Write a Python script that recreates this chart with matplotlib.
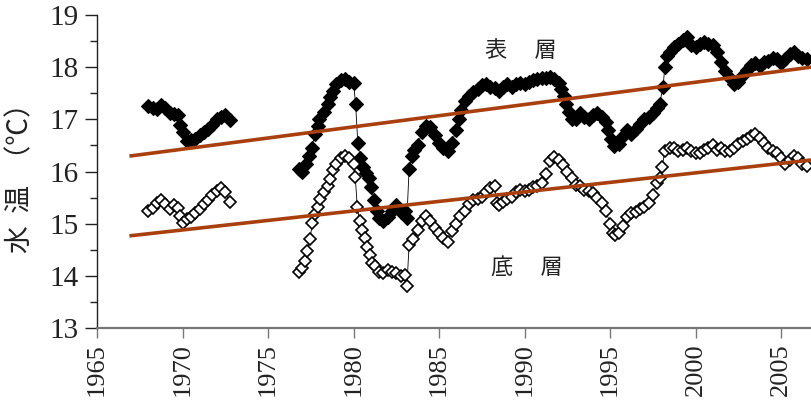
import numpy as np
import matplotlib
matplotlib.use("Agg")
import matplotlib.pyplot as plt
from matplotlib.ticker import MultipleLocator

nan = np.nan

# 表層水温（年移動平均）— nan で欠測期間を区切る
surface_years = [
    1968.00, 1968.25, 1968.50, 1968.75, 1969.00, 1969.25, 1969.50, 1969.75, 1969.88,
    1970.00, 1970.25, 1970.50, 1970.75, 1971.00, 1971.25, 1971.50, 1971.75, 1972.00,
    1972.25, 1972.50, 1972.75,
    nan,
    1976.80, 1977.00, 1977.25, 1977.40, 1977.55, 1977.75, 1977.90, 1978.00, 1978.25,
    1978.50, 1978.65, 1978.80, 1979.00, 1979.25, 1979.50, 1979.75, 1980.00, 1980.12,
    1980.25, 1980.40, 1980.55, 1980.75, 1980.90, 1981.05, 1981.20, 1981.35, 1981.50,
    1981.75, 1982.00, 1982.25, 1982.50, 1982.75, 1983.00, 1983.12, 1983.25, 1983.40,
    1983.55, 1983.75, 1984.00, 1984.25, 1984.50, 1984.75, 1985.00, 1985.25, 1985.50,
    1985.75, 1986.00, 1986.15, 1986.30, 1986.50, 1986.75, 1987.00, 1987.25, 1987.50,
    1987.75, 1988.00, 1988.25, 1988.50, 1988.75, 1989.00, 1989.25, 1989.50, 1989.75,
    1990.00, 1990.25, 1990.50, 1990.75, 1991.00, 1991.25, 1991.50, 1991.75, 1992.00,
    1992.15, 1992.30, 1992.45, 1992.60, 1992.75, 1993.00, 1993.25, 1993.50, 1993.75,
    1994.00, 1994.25, 1994.50, 1994.75, 1994.90, 1995.05, 1995.25, 1995.50, 1995.75,
    1996.00, 1996.25, 1996.50, 1996.75, 1997.00, 1997.25, 1997.50, 1997.75, 1997.90,
    1998.10, 1998.20, 1998.35, 1998.50, 1998.75, 1999.00, 1999.25, 1999.50, 1999.75,
    2000.00, 2000.25, 2000.50, 2000.75, 2001.00, 2001.25, 2001.50, 2001.75, 2002.00,
    2002.25, 2002.50, 2002.75, 2003.00, 2003.25, 2003.50, 2003.75, 2004.00, 2004.25,
    2004.50, 2004.75, 2005.00, 2005.25, 2005.50, 2005.75, 2006.00, 2006.25, 2006.50,
]
surface_temp = [
    17.25, 17.22, 17.20, 17.28, 17.22, 17.12, 17.10, 17.08, 16.90,
    16.75, 16.58, 16.60, 16.62, 16.70, 16.75, 16.82, 16.90, 17.00,
    17.05, 17.08, 16.98,
    nan,
    16.05, 16.00, 16.15, 16.30, 16.45, 16.72, 16.88, 17.00, 17.15,
    17.30, 17.42, 17.55, 17.68, 17.75, 17.78, 17.72, 17.70, 17.30,
    16.55, 16.25, 16.08, 15.98, 15.88, 15.70, 15.45, 15.25, 15.10,
    15.05, 15.12, 15.25, 15.35, 15.22, 15.25, 15.10, 16.05, 16.30,
    16.42, 16.50, 16.75, 16.88, 16.85, 16.70, 16.55, 16.45, 16.40,
    16.55, 16.80, 17.00, 17.18, 17.35, 17.45, 17.52, 17.58, 17.65,
    17.68, 17.62, 17.60, 17.55, 17.62, 17.68, 17.62, 17.68, 17.70,
    17.68, 17.72, 17.75, 17.78, 17.80, 17.80, 17.82, 17.78, 17.70,
    17.58, 17.45, 17.30, 17.15, 17.00, 17.00, 17.12, 17.05, 17.00,
    17.08, 17.12, 17.05, 16.95, 16.80, 16.62, 16.48, 16.52, 16.68,
    16.80, 16.72, 16.82, 16.92, 17.00, 17.05, 17.12, 17.22, 17.30,
    17.62, 18.00, 18.22, 18.30, 18.38, 18.45, 18.52, 18.58, 18.42,
    18.38, 18.45, 18.48, 18.45, 18.42, 18.30, 18.10, 17.92, 17.80,
    17.68, 17.72, 17.85, 17.95, 18.05, 18.08, 18.02, 18.10, 18.12,
    18.18, 18.15, 18.08, 18.15, 18.25, 18.30, 18.22, 18.18, 18.15,
]

# 底層水温（年移動平均）
bottom_years = [
    1968.00, 1968.25, 1968.50, 1968.75, 1969.00, 1969.25, 1969.50, 1969.75, 1969.88,
    1970.00, 1970.25, 1970.50, 1970.75, 1971.00, 1971.25, 1971.50, 1971.75, 1972.00,
    1972.25, 1972.50, 1972.75,
    nan,
    1976.80, 1977.00, 1977.15, 1977.30, 1977.45, 1977.60, 1977.75, 1977.90, 1978.05,
    1978.25, 1978.50, 1978.65, 1978.80, 1979.00, 1979.25, 1979.50, 1979.75, 1980.00,
    1980.10, 1980.22, 1980.35, 1980.50, 1980.65, 1980.80, 1980.95, 1981.10, 1981.25,
    1981.50, 1981.75, 1982.00, 1982.25, 1982.50, 1982.75, 1983.00, 1983.12, 1983.25,
    1983.50, 1983.75, 1984.00, 1984.25, 1984.50, 1984.75, 1985.00, 1985.25, 1985.50,
    1985.75, 1986.00, 1986.25, 1986.50, 1986.75, 1987.00, 1987.25, 1987.50, 1987.75,
    1988.00, 1988.25, 1988.40, 1988.50, 1988.75, 1989.00, 1989.25, 1989.50, 1989.75,
    1990.00, 1990.25, 1990.50, 1990.75, 1991.00, 1991.25, 1991.50, 1991.75, 1992.00,
    1992.25, 1992.50, 1992.75, 1993.00, 1993.25, 1993.50, 1993.75, 1994.00, 1994.25,
    1994.50, 1994.75, 1995.00, 1995.15, 1995.30, 1995.50, 1995.75, 1996.00, 1996.25,
    1996.50, 1996.75, 1997.00, 1997.25, 1997.50, 1997.75, 1997.90, 1998.05, 1998.20,
    1998.50, 1998.75, 1999.00, 1999.25, 1999.50, 1999.75, 2000.00, 2000.25, 2000.50,
    2000.75, 2001.00, 2001.25, 2001.50, 2001.75, 2002.00, 2002.25, 2002.50, 2002.75,
    2003.00, 2003.25, 2003.50, 2003.75, 2004.00, 2004.25, 2004.50, 2004.75, 2005.00,
    2005.25, 2005.50, 2005.75, 2006.00, 2006.25, 2006.50,
]
bottom_temp = [
    15.25, 15.30, 15.40, 15.45, 15.38, 15.28, 15.35, 15.30, 15.15,
    15.02, 15.08, 15.12, 15.20, 15.28, 15.38, 15.45, 15.55, 15.62,
    15.68, 15.60, 15.42,
    nan,
    14.08, 14.15, 14.28, 14.48, 14.70, 15.02, 15.18, 15.32, 15.48,
    15.60, 15.72, 15.85, 16.02, 16.15, 16.25, 16.30, 16.25, 16.15,
    15.90, 15.32, 15.05, 14.88, 14.72, 14.55, 14.40, 14.25, 14.18,
    14.08, 14.05, 14.12, 14.08, 14.05, 14.00, 14.02, 13.80, 14.60,
    14.70, 14.88, 15.05, 15.15, 15.05, 14.92, 14.82, 14.72, 14.65,
    14.85, 15.00, 15.15, 15.25, 15.38, 15.45, 15.48, 15.52, 15.60,
    15.68, 15.72, 15.40, 15.35, 15.42, 15.48, 15.52, 15.60, 15.65,
    15.62, 15.65, 15.70, 15.72, 15.78, 15.95, 16.20, 16.28, 16.22,
    16.12, 16.00, 15.88, 15.75, 15.72, 15.65, 15.62, 15.58, 15.50,
    15.40, 15.25, 15.00, 14.82, 14.78, 14.82, 14.95, 15.12, 15.20,
    15.22, 15.28, 15.32, 15.40, 15.55, 15.78, 15.88, 16.08, 16.40,
    16.45, 16.45, 16.40, 16.42, 16.45, 16.40, 16.35, 16.35, 16.42,
    16.45, 16.50, 16.42, 16.45, 16.40, 16.40, 16.45, 16.52, 16.58,
    16.62, 16.68, 16.72, 16.65, 16.55, 16.45, 16.40, 16.35, 16.25,
    16.15, 16.22, 16.30, 16.25, 16.15, 16.10,
]

# 回帰直線の端点
trend_years = [1967.0, 2006.75]
surface_trend = [16.30, 18.00]
bottom_trend = [14.77, 16.22]

cjk = ["Noto Sans CJK JP", "DejaVu Sans"]
digits = ["Liberation Serif", "DejaVu Serif"]
plt.rcParams["font.family"] = digits

fig = plt.figure(figsize=(8.11, 4.08), dpi=100)
ax = fig.add_axes([97 / 811, 80 / 408, 714 / 811, 313 / 408])

ax.plot(surface_years, surface_temp, color="black", lw=0.6,
        marker="D", ms=7.0, mfc="black", mec="black", mew=0.8, zorder=3)
ax.plot(bottom_years, bottom_temp, color="black", lw=0.6,
        marker="D", ms=6.3, mfc="white", mec="black", mew=1.2, zorder=3)

trend_color = "#a83f0c"
ax.plot(trend_years, surface_trend, color=trend_color, lw=2.6, zorder=5)
ax.plot(trend_years, bottom_trend, color=trend_color, lw=2.6, zorder=5)

ax.text(1989.8, 18.31, "表　 層", ha="center", va="center",
        fontsize=16, family=cjk, color="#222222")
ax.text(1990.15, 14.15, "底　 層", ha="center", va="center",
        fontsize=16, family=cjk, color="#222222")

ax.set_xlim(1965, 2006.75)
ax.set_ylim(13, 19)
ax.set_xticks(range(1965, 2006, 5))
ax.yaxis.set_major_locator(MultipleLocator(1))
ax.yaxis.set_minor_locator(MultipleLocator(0.5))

for side in ("top", "right"):
    ax.spines[side].set_visible(False)
ax.spines["left"].set_color("#222222")
ax.spines["left"].set_linewidth(1.0)
ax.spines["bottom"].set_color("#777777")
ax.spines["bottom"].set_linewidth(1.6)

ax.tick_params(axis="y", which="major", direction="out", length=9, width=1.0,
               labelsize=21, pad=4, color="#222222")
ax.tick_params(axis="y", which="minor", direction="out", length=5, width=1.0,
               color="#222222")
ax.tick_params(axis="x", which="major", direction="out", length=7, width=1.0,
               labelsize=19, pad=4, color="#777777", labelrotation=90)

# 目盛ラベルは明朝風のセリフ体で
for lbl in ax.get_xticklabels() + ax.get_yticklabels():
    lbl.set_family(digits)
    lbl.set_color("#222222")

ax.set_ylabel("水  温  （℃）", family=cjk, fontsize=20, labelpad=10, color="#222222")

fig.savefig("out.png", dpi=100, facecolor="white")
